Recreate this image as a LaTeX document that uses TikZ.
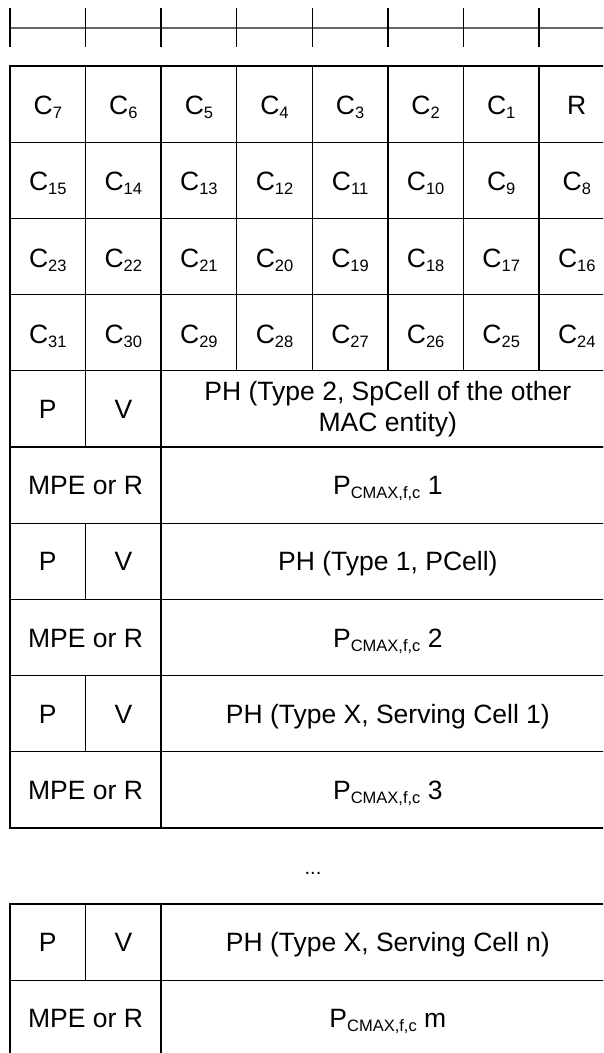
\documentclass[tikz,border=0pt]{standalone}
\usepackage{fontspec}
\setmainfont{Liberation Sans}
\newcommand\mysub[1]{\raisebox{-4pt}{\fontsize{16.5}{16.5}\selectfont #1}}
\begin{document}
\begin{tikzpicture}[x=1pt,y=-1pt,
  ruler/.style={draw=black!60, line width=1.1pt},
  tick/.style={draw=black, line width=1.3pt},
  base/.style={draw=black, line width=1.3pt, rectangle, inner sep=0pt, outer sep=0pt,
    minimum height=76.2pt, font=\fontsize{26.5}{31}\selectfont, align=center},
  cell/.style={base, text height=19pt, text depth=0pt},
  ccell/.style={cell, minimum width=75.57pt, text height=21pt},
  one/.style={cell, minimum width=75.57pt},
  two/.style={cell, minimum width=151.14pt},
  wide/.style={cell, minimum width=453.43pt},
  widetwo/.style={base, minimum width=453.43pt}]
\useasboundingbox (0,0) rectangle (603,1053);
\clip (0,0) rectangle (603,1053);
% ruler
\draw[ruler] (10,28) -- (610,28);
\foreach \i in {0,...,7} {
  \pgfmathsetmacro\xx{10+\i*75.57}
  \draw[tick] (\xx,8) -- (\xx,47);
}
% bitmap rows
\foreach \r in {0,...,3} {
  \foreach \i in {0,...,7} {
    \pgfmathtruncatemacro\k{8*\r+7-\i}
    \pgfmathsetmacro\cx{10+(\i+0.5)*75.57}
    \pgfmathsetmacro\cy{66+(\r+0.5)*76.2}
    \ifnum\k=0
      \node[ccell] (c\k) at (\cx,\cy) {R};
    \else
      \node[ccell] (c\k) at (\cx,\cy) {C\mysub{\k}};
    \fi
  }
}
% PH entries
\node[one] (p1) at (47.79,408.9) {P};
\node[one] (v1) at (123.36,408.9) {V};
\node[widetwo] (ph1) at (387.86,408.9) {PH (Type 2, SpCell of the other\\MAC entity)};
\node[two] (m1) at (85.57,485.1) {MPE or R};
\node[wide] (pc1) at (387.86,485.1) {P\mysub{CMAX,f,c} 1};

\node[one] (p2) at (47.79,561.3) {P};
\node[one] (v2) at (123.36,561.3) {V};
\node[wide] (ph2) at (387.86,561.3) {PH (Type 1, PCell)};
\node[two] (m2) at (85.57,637.5) {MPE or R};
\node[wide] (pc2) at (387.86,637.5) {P\mysub{CMAX,f,c} 2};

\node[one] (p3) at (47.79,713.7) {P};
\node[one] (v3) at (123.36,713.7) {V};
\node[wide] (ph3) at (387.86,713.7) {PH (Type X, Serving Cell 1)};
\node[two] (m3) at (85.57,789.9) {MPE or R};
\node[wide] (pc3) at (387.86,789.9) {P\mysub{CMAX,f,c} 3};

\node[anchor=base, font=\fontsize{20}{20}\selectfont, inner sep=0pt] (dots) at (313,874) {...};

\node[one] (pn) at (47.79,942.1) {P};
\node[one] (vn) at (123.36,942.1) {V};
\node[wide] (phn) at (387.86,942.1) {PH (Type X, Serving Cell n)};
\node[two] (mn) at (85.57,1018.3) {MPE or R};
\node[wide] (pcn) at (387.86,1018.3) {P\mysub{CMAX,f,c} m};
\end{tikzpicture}
\end{document}
